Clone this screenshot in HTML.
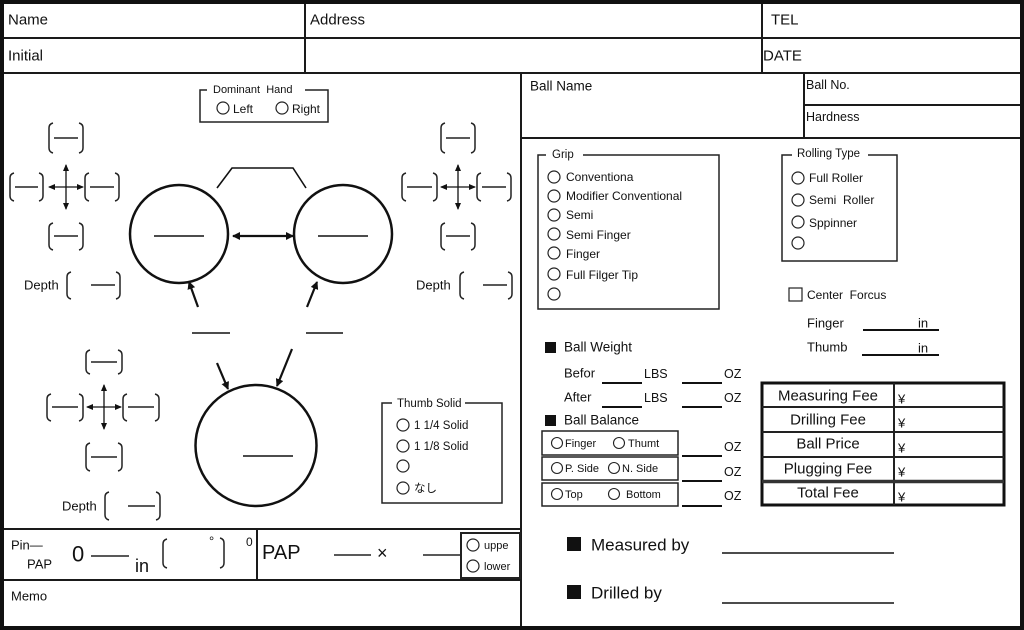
<!DOCTYPE html>
<html>
<head>
<meta charset="utf-8">
<style>
html,body{margin:0;padding:0;background:#fff;}
svg{display:block;}
text{font-family:"Liberation Sans","Noto Sans CJK JP",sans-serif;fill:#111;dominant-baseline:central;}
.pre{white-space:pre;}
</style>
</head>
<body>
<svg width="1024" height="630" viewBox="0 0 1024 630" xmlns="http://www.w3.org/2000/svg">
<defs>
<marker id="ah" markerWidth="8" markerHeight="8" refX="7" refY="4" orient="auto" markerUnits="userSpaceOnUse">
<path d="M0,0 L8,4 L0,8 Z" fill="#111"/>
</marker>
<marker id="ahs" markerWidth="7" markerHeight="6" refX="6" refY="3" orient="auto" markerUnits="userSpaceOnUse">
<path d="M0,0 L7,3 L0,6 Z" fill="#111"/>
</marker>
</defs>
<rect x="0" y="0" width="1024" height="630" fill="#fff"/>

<!-- outer frame -->
<rect x="2" y="2" width="1020" height="626" fill="none" stroke="#111" stroke-width="4"/>

<!-- header grid -->
<g stroke="#1a1a1a" stroke-width="2" fill="none">
<line x1="4" y1="38" x2="1020" y2="38"/>
<line x1="4" y1="73" x2="1020" y2="73"/>
<line x1="305" y1="4" x2="305" y2="73"/>
<line x1="762" y1="4" x2="762" y2="73"/>
<line x1="521" y1="73" x2="521" y2="626"/>
<line x1="804" y1="73" x2="804" y2="138"/>
<line x1="804" y1="105" x2="1020" y2="105"/>
<line x1="521" y1="138" x2="1020" y2="138"/>
<line x1="4" y1="529" x2="521" y2="529"/>
<line x1="4" y1="580" x2="521" y2="580"/>
<line x1="257" y1="529" x2="257" y2="580"/>
</g>

<text x="8" y="20" font-size="15">Name</text>
<text x="310" y="20" font-size="15">Address</text>
<text x="771" y="20" font-size="15">TEL</text>
<text x="8" y="56" font-size="15">Initial</text>
<text x="763" y="56" font-size="15">DATE</text>
<text x="530" y="86" font-size="13.5">Ball Name</text>
<text x="806" y="85" font-size="12.5">Ball No.</text>
<text x="806" y="117" font-size="12.5">Hardness</text>

<!-- Dominant Hand box -->
<rect x="200" y="90" width="128" height="32" fill="none" stroke="#222" stroke-width="1.5"/>
<rect x="207" y="84" width="98" height="12" fill="#fff"/>
<text x="213" y="90" font-size="11" class="pre">Dominant  Hand</text>
<circle cx="223" cy="108" r="6" fill="none" stroke="#222" stroke-width="1.2"/>
<text x="233" y="109" font-size="12">Left</text>
<circle cx="282" cy="108" r="6" fill="none" stroke="#222" stroke-width="1.2"/>
<text x="292" y="109" font-size="12">Right</text>

<!-- brackets -->
<g stroke="#222" stroke-width="1.5" fill="none">
<path d="M53,123 Q49,124 49,128 V148 Q49,152 53,153 M79,123 Q83,124 83,128 V148 Q83,152 79,153 M54,138 H78"/>
<path d="M14,173 Q10,174 10,178 V196 Q10,200 14,201 M39,173 Q43,174 43,178 V196 Q43,200 39,201 M15,187 H38"/>
<path d="M89,173 Q85,174 85,178 V196 Q85,200 89,201 M115,173 Q119,174 119,178 V196 Q119,200 115,201 M90,187 H114"/>
<path d="M53,223 Q49,224 49,228 V245 Q49,249 53,250 M79,223 Q83,224 83,228 V245 Q83,249 79,250 M54,236 H78"/>
<path d="M71,272 Q67,273 67,277 V294 Q67,298 71,299 M116,272 Q120,273 120,277 V294 Q120,298 116,299 M91,285 H115"/>
<path d="M445,123 Q441,124 441,128 V148 Q441,152 445,153 M471,123 Q475,124 475,128 V148 Q475,152 471,153 M446,138 H470"/>
<path d="M406,173 Q402,174 402,178 V196 Q402,200 406,201 M433,173 Q437,174 437,178 V196 Q437,200 433,201 M407,187 H432"/>
<path d="M481,173 Q477,174 477,178 V196 Q477,200 481,201 M507,173 Q511,174 511,178 V196 Q511,200 507,201 M482,187 H506"/>
<path d="M445,223 Q441,224 441,228 V245 Q441,249 445,250 M471,223 Q475,224 475,228 V245 Q475,249 471,250 M446,236 H470"/>
<path d="M464,272 Q460,273 460,277 V294 Q460,298 464,299 M508,272 Q512,273 512,277 V294 Q512,298 508,299 M483,285 H507"/>
<path d="M90,350 Q86,351 86,355 V369 Q86,373 90,374 M118,350 Q122,351 122,355 V369 Q122,373 118,374 M91,362 H117"/>
<path d="M51,394 Q47,395 47,399 V416 Q47,420 51,421 M79,394 Q83,395 83,399 V416 Q83,420 79,421 M52,407 H78"/>
<path d="M127,394 Q123,395 123,399 V416 Q123,420 127,421 M155,394 Q159,395 159,399 V416 Q159,420 155,421 M128,407 H154"/>
<path d="M90,443 Q86,444 86,448 V466 Q86,470 90,471 M118,443 Q122,444 122,448 V466 Q122,470 118,471 M91,457 H117"/>
<path d="M109,492 Q105,493 105,497 V515 Q105,519 109,520 M156,492 Q160,493 160,497 V515 Q160,519 156,520 M128,506 H155"/>
</g>
<text x="24" y="285" font-size="13">Depth</text>
<text x="416" y="285" font-size="13">Depth</text>
<text x="62" y="506" font-size="13">Depth</text>

<!-- cross arrows -->
<g stroke="#111" stroke-width="1.3" fill="none">
<line x1="66" y1="187" x2="66" y2="165" marker-end="url(#ahs)"/>
<line x1="66" y1="187" x2="66" y2="209" marker-end="url(#ahs)"/>
<line x1="66" y1="187" x2="49" y2="187" marker-end="url(#ahs)"/>
<line x1="66" y1="187" x2="83" y2="187" marker-end="url(#ahs)"/>
<line x1="458" y1="187" x2="458" y2="165" marker-end="url(#ahs)"/>
<line x1="458" y1="187" x2="458" y2="209" marker-end="url(#ahs)"/>
<line x1="458" y1="187" x2="441" y2="187" marker-end="url(#ahs)"/>
<line x1="458" y1="187" x2="475" y2="187" marker-end="url(#ahs)"/>
<line x1="104" y1="407" x2="104" y2="385" marker-end="url(#ahs)"/>
<line x1="104" y1="407" x2="104" y2="429" marker-end="url(#ahs)"/>
<line x1="104" y1="407" x2="87" y2="407" marker-end="url(#ahs)"/>
<line x1="104" y1="407" x2="121" y2="407" marker-end="url(#ahs)"/>
</g>

<!-- circles -->
<g stroke="#111" stroke-width="2.5" fill="none">
<circle cx="179" cy="234" r="49"/>
<circle cx="343" cy="234" r="49"/>
<circle cx="256" cy="445.5" r="60.5"/>
</g>
<g stroke="#111" stroke-width="1.6" fill="none">
<line x1="154" y1="236" x2="204" y2="236"/>
<line x1="318" y1="236" x2="368" y2="236"/>
<line x1="243" y1="456" x2="293" y2="456"/>
<polyline points="217,188 232,168 293,168 306,188"/>
<line x1="192" y1="333" x2="230" y2="333"/>
<line x1="306" y1="333" x2="343" y2="333"/>
</g>
<g stroke="#111" stroke-width="2.2" fill="none">
<line x1="262" y1="236" x2="233" y2="236" marker-end="url(#ah)"/>
<line x1="262" y1="236" x2="293" y2="236" marker-end="url(#ah)"/>
<line x1="198" y1="307" x2="189" y2="282" marker-end="url(#ah)"/>
<line x1="307" y1="307" x2="317" y2="282" marker-end="url(#ah)"/>
<line x1="217" y1="363" x2="228" y2="389" marker-end="url(#ah)"/>
<line x1="292" y1="349" x2="277" y2="386" marker-end="url(#ah)"/>
</g>

<!-- Thumb Solid box -->
<rect x="382" y="403" width="120" height="100" fill="none" stroke="#222" stroke-width="1.5"/>
<rect x="392" y="397" width="73" height="12" fill="#fff"/>
<text x="397" y="404" font-size="11.5">Thumb Solid</text>
<g stroke="#222" stroke-width="1.2" fill="none">
<circle cx="403" cy="425" r="6"/>
<circle cx="403" cy="446" r="6"/>
<circle cx="403" cy="466" r="6"/>
<circle cx="403" cy="488" r="6"/>
</g>
<text x="414" y="426" font-size="11.5">1 1/4 Solid</text>
<text x="414" y="447" font-size="11.5">1 1/8 Solid</text>
<text x="414" y="489" font-size="11.5">なし</text>

<!-- Pin PAP row -->
<text x="11" y="545" font-size="13">Pin—</text>
<text x="27" y="564" font-size="13">PAP</text>
<text x="72" y="554" font-size="22">0</text>
<line x1="91" y1="556" x2="129" y2="556" stroke="#222" stroke-width="1.5"/>
<text x="135" y="566" font-size="18">in</text>
<g stroke="#222" stroke-width="1.5" fill="none">
<path d="M167,539 Q163,540 163,544 V563 Q163,567 167,568"/>
<path d="M220,538 Q224,539 224,543 V563 Q224,567 220,568"/>
</g>
<text x="209" y="541" font-size="13">°</text>
<text x="246" y="542" font-size="12">0</text>
<text x="262" y="553" font-size="20">PAP</text>
<line x1="334" y1="555" x2="371" y2="555" stroke="#222" stroke-width="1.5"/>
<text x="377" y="553" font-size="18">×</text>
<line x1="423" y1="555" x2="461" y2="555" stroke="#222" stroke-width="1.5"/>
<rect x="461" y="533" width="59" height="45" fill="none" stroke="#222" stroke-width="2"/>
<circle cx="473" cy="545" r="6" fill="none" stroke="#222" stroke-width="1.2"/>
<text x="484" y="546" font-size="11">uppe</text>
<circle cx="473" cy="566" r="6" fill="none" stroke="#222" stroke-width="1.2"/>
<text x="484" y="567" font-size="11">lower</text>
<text x="11" y="596" font-size="13">Memo</text>

<!-- Grip box -->
<rect x="538" y="155" width="181" height="154" fill="none" stroke="#222" stroke-width="1.5"/>
<rect x="546" y="149" width="37" height="12" fill="#fff"/>
<text x="552" y="155" font-size="11.5">Grip</text>
<g stroke="#222" stroke-width="1.2" fill="none">
<circle cx="554" cy="177" r="6"/>
<circle cx="554" cy="196" r="6"/>
<circle cx="554" cy="215" r="6"/>
<circle cx="554" cy="234" r="6"/>
<circle cx="554" cy="253" r="6"/>
<circle cx="554" cy="274" r="6"/>
<circle cx="554" cy="294" r="6"/>
</g>
<text x="566" y="177" font-size="12">Conventiona</text>
<text x="566" y="196" font-size="12">Modifier Conventional</text>
<text x="566" y="215" font-size="12">Semi</text>
<text x="566" y="235" font-size="12">Semi Finger</text>
<text x="566" y="254" font-size="12">Finger</text>
<text x="566" y="275" font-size="12">Full Filger Tip</text>

<!-- Rolling type box -->
<rect x="782" y="155" width="115" height="106" fill="none" stroke="#222" stroke-width="1.5"/>
<rect x="792" y="149" width="76" height="12" fill="#fff"/>
<text x="797" y="154" font-size="11.5">Rolling Type</text>
<g stroke="#222" stroke-width="1.2" fill="none">
<circle cx="798" cy="178" r="6"/>
<circle cx="798" cy="200" r="6"/>
<circle cx="798" cy="222" r="6"/>
<circle cx="798" cy="243" r="6"/>
</g>
<text x="809" y="178" font-size="12">Full Roller</text>
<text x="809" y="200" font-size="12" class="pre">Semi  Roller</text>
<text x="809" y="223" font-size="12">Sppinner</text>

<!-- Center Forcus -->
<rect x="789" y="288" width="13" height="13" fill="none" stroke="#222" stroke-width="1.2"/>
<text x="807" y="295" font-size="12" class="pre">Center  Forcus</text>
<text x="807" y="323" font-size="13">Finger</text>
<line x1="863" y1="330" x2="939" y2="330" stroke="#111" stroke-width="2"/>
<text x="918" y="323" font-size="13">in</text>
<text x="807" y="347" font-size="13">Thumb</text>
<line x1="862" y1="355" x2="939" y2="355" stroke="#111" stroke-width="2"/>
<text x="918" y="348" font-size="13">in</text>

<!-- Ball weight -->
<rect x="545" y="342" width="11" height="11" fill="#111"/>
<text x="564" y="347" font-size="13.5">Ball Weight</text>
<text x="564" y="373" font-size="13">Befor</text>
<line x1="602" y1="383" x2="642" y2="383" stroke="#111" stroke-width="2"/>
<text x="644" y="374" font-size="12.5">LBS</text>
<line x1="682" y1="383" x2="722" y2="383" stroke="#111" stroke-width="2"/>
<text x="724" y="374" font-size="12.5">OZ</text>
<text x="564" y="397" font-size="13">After</text>
<line x1="602" y1="407" x2="642" y2="407" stroke="#111" stroke-width="2"/>
<text x="644" y="398" font-size="12.5">LBS</text>
<line x1="682" y1="407" x2="722" y2="407" stroke="#111" stroke-width="2"/>
<text x="724" y="398" font-size="12.5">OZ</text>
<rect x="545" y="415" width="11" height="11" fill="#111"/>
<text x="564" y="420" font-size="13.5">Ball Balance</text>

<g stroke="#222" stroke-width="1.5" fill="none">
<rect x="542" y="431" width="136" height="24"/>
<rect x="542" y="457" width="136" height="23"/>
<rect x="542" y="483" width="136" height="23"/>
</g>
<g stroke="#222" stroke-width="1.1" fill="none">
<circle cx="557" cy="443" r="5.5"/>
<circle cx="619" cy="443" r="5.5"/>
<circle cx="557" cy="468" r="5.5"/>
<circle cx="614" cy="468" r="5.5"/>
<circle cx="557" cy="494" r="5.5"/>
<circle cx="614" cy="494" r="5.5"/>
</g>
<text x="565" y="444" font-size="11">Finger</text>
<text x="628" y="444" font-size="11">Thumt</text>
<text x="565" y="469" font-size="11">P. Side</text>
<text x="622" y="469" font-size="11">N. Side</text>
<text x="565" y="495" font-size="11">Top</text>
<text x="626" y="495" font-size="11">Bottom</text>
<g stroke="#111" stroke-width="2">
<line x1="682" y1="456" x2="722" y2="456"/>
<line x1="682" y1="481" x2="722" y2="481"/>
<line x1="682" y1="506" x2="722" y2="506"/>
</g>
<text x="724" y="447" font-size="12.5">OZ</text>
<text x="724" y="472" font-size="12.5">OZ</text>
<text x="724" y="496" font-size="12.5">OZ</text>

<!-- Fee table -->
<rect x="762" y="383" width="242" height="122" fill="none" stroke="#111" stroke-width="3"/>
<g stroke="#222" stroke-width="2">
<line x1="894" y1="383" x2="894" y2="505"/>
<line x1="762" y1="407" x2="1004" y2="407"/>
<line x1="762" y1="432" x2="1004" y2="432"/>
<line x1="762" y1="457" x2="1004" y2="457"/>
</g>
<line x1="762" y1="481.5" x2="1004" y2="481.5" stroke="#333" stroke-width="3.5"/>
<text x="828" y="396" font-size="15" text-anchor="middle">Measuring Fee</text>
<text x="828" y="420" font-size="15" text-anchor="middle">Drilling Fee</text>
<text x="828" y="444" font-size="15" text-anchor="middle">Ball Price</text>
<text x="828" y="469" font-size="15" text-anchor="middle">Plugging Fee</text>
<text x="828" y="493" font-size="15" text-anchor="middle">Total Fee</text>
<text x="898" y="399" font-size="13">¥</text>
<text x="898" y="423" font-size="13">¥</text>
<text x="898" y="448" font-size="13">¥</text>
<text x="898" y="472" font-size="13">¥</text>
<text x="898" y="497" font-size="13">¥</text>

<!-- Measured / Drilled -->
<rect x="567" y="537" width="14" height="14" fill="#111"/>
<text x="591" y="545" font-size="17">Measured by</text>
<line x1="722" y1="553" x2="894" y2="553" stroke="#111" stroke-width="1.5"/>
<rect x="567" y="585" width="14" height="14" fill="#111"/>
<text x="591" y="593" font-size="17">Drilled by</text>
<line x1="722" y1="603" x2="894" y2="603" stroke="#111" stroke-width="1.5"/>
</svg>
</body>
</html>
